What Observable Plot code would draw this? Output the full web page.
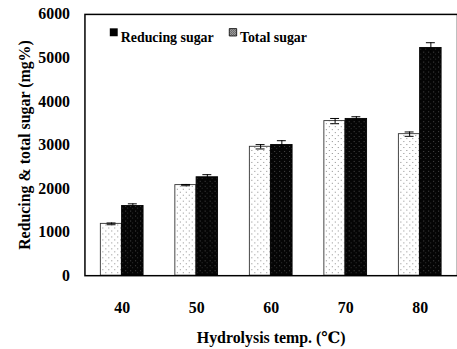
<!DOCTYPE html>
<html>
<head>
<meta charset="utf-8">
<script src="https://cdn.jsdelivr.net/npm/d3@7"></script>
<script src="https://cdn.jsdelivr.net/npm/@observablehq/plot@0.6"></script>
<style>
  html, body { margin: 0; padding: 0; background: #fff; overflow: hidden; width: 457px; height: 349px; }
  #chart svg { display: block; }
</style>
</head>
<body>
<div id="chart"></div>
<script>
const temps = ["40", "50", "60", "70", "80"];
const reducingSugar = [1190, 2080, 2960, 3550, 3250];
const reducingErr = [20, 15, 50, 60, 50];
const totalSugar = [1600, 2260, 3000, 3600, 5230];
const totalErr = [50, 60, 100, 50, 120];
const yTicks = [0, 1000, 2000, 3000, 4000, 5000, 6000];
const legendLabels = ["Reducing sugar", "Total sugar"];

const reducing = temps.map((t, i) => ({temp: t, v: reducingSugar[i], e: reducingErr[i]}));
const total = temps.map((t, i) => ({temp: t, v: totalSugar[i], e: totalErr[i]}));

const half = 21.4;
const off = 10.7;
const font = "'Liberation Serif', 'DejaVu Serif', serif";

const chart = Plot.plot({
  width: 460,
  height: 349,
  marginTop: 14,
  marginBottom: 72,
  marginLeft: 85,
  marginRight: 0,
  style: {fontFamily: font, fontWeight: "bold", fontSize: "16px", color: "#000", background: "#fff"},
  x: {domain: temps, paddingInner: 0.43, paddingOuter: 0.215, tickSize: 0, tickPadding: 26,
      label: "Hydrolysis temp. (℃)", labelAnchor: "center", labelOffset: 68},
  y: {domain: [0, 6000], ticks: yTicks, tickFormat: d => String(d), tickSize: 0, tickPadding: 15,
      label: "Reducing & total sugar (mg%)", labelAnchor: "center", labelOffset: 67, labelArrow: false},
  marks: [
    Plot.barY(reducing, {x: "temp", y: "v", fill: "url(#dotsPat)", stroke: "#333", strokeWidth: 0.9, insetRight: half + 0.5}),
    Plot.barY(total, {x: "temp", y: "v", fill: "url(#darkPat)", stroke: "#000", strokeWidth: 0.9, insetLeft: half}),
    Plot.ruleX(reducing, {x: "temp", y1: d => d.v - d.e, y2: d => d.v + d.e, dx: -off, stroke: "#000", strokeWidth: 1}),
    Plot.tickY(reducing, {x: "temp", y: d => d.v + d.e, dx: -off, insetLeft: 17, insetRight: 17, stroke: "#000", strokeWidth: 1}),
    Plot.tickY(reducing, {x: "temp", y: d => d.v - d.e, dx: -off, insetLeft: 17, insetRight: 17, stroke: "#000", strokeWidth: 1}),
    Plot.ruleX(total, {x: "temp", y1: d => d.v - d.e, y2: d => d.v + d.e, dx: off, stroke: "#000", strokeWidth: 1}),
    Plot.tickY(total, {x: "temp", y: d => d.v + d.e, dx: off, insetLeft: 17, insetRight: 17, stroke: "#000", strokeWidth: 1}),
    Plot.frame({stroke: "#000", strokeWidth: 1.5}),
    Plot.dot([legendLabels[0]], {frameAnchor: "top-left", dx: 29, dy: 18, symbol: "square", r: 4.5, fill: "#000", stroke: "none"}),
    Plot.text([legendLabels[0]], {frameAnchor: "top-left", dx: 36, dy: 18, text: d => d, textAnchor: "start", fontSize: 14, fontWeight: "bold", fill: "#000"}),
    Plot.dot([legendLabels[1]], {frameAnchor: "top-left", dx: 149, dy: 18, symbol: "square", r: 4.2, fill: "url(#legPat)", stroke: "#000", strokeWidth: 0.8}),
    Plot.text([legendLabels[1]], {frameAnchor: "top-left", dx: 156, dy: 18, text: d => d, textAnchor: "start", fontSize: 14, fontWeight: "bold", fill: "#000"})
  ]
});

d3.select(chart).insert("defs", ":first-child").html(`
  <pattern id="dotsPat" width="6" height="6" patternUnits="userSpaceOnUse">
    <rect width="6" height="6" fill="#fff"/>
    <rect x="1" y="1" width="1" height="1" fill="#8a8a8a"/>
    <rect x="4" y="4" width="1" height="1" fill="#8a8a8a"/>
  </pattern>
  <pattern id="darkPat" width="5" height="5" patternUnits="userSpaceOnUse">
    <rect width="5" height="5" fill="#050505"/>
    <rect x="1" y="2" width="1" height="1" fill="#4a4a4a"/>
    <rect x="3" y="4" width="1" height="1" fill="#333"/>
  </pattern>
  <pattern id="legPat" width="2" height="2" patternUnits="userSpaceOnUse">
    <rect width="2" height="2" fill="#bbb"/>
    <rect x="0" y="0" width="1" height="1" fill="#444"/>
    <rect x="1" y="1" width="1" height="1" fill="#555"/>
  </pattern>
`);

document.getElementById("chart").appendChild(chart);
</script>
</body>
</html>
